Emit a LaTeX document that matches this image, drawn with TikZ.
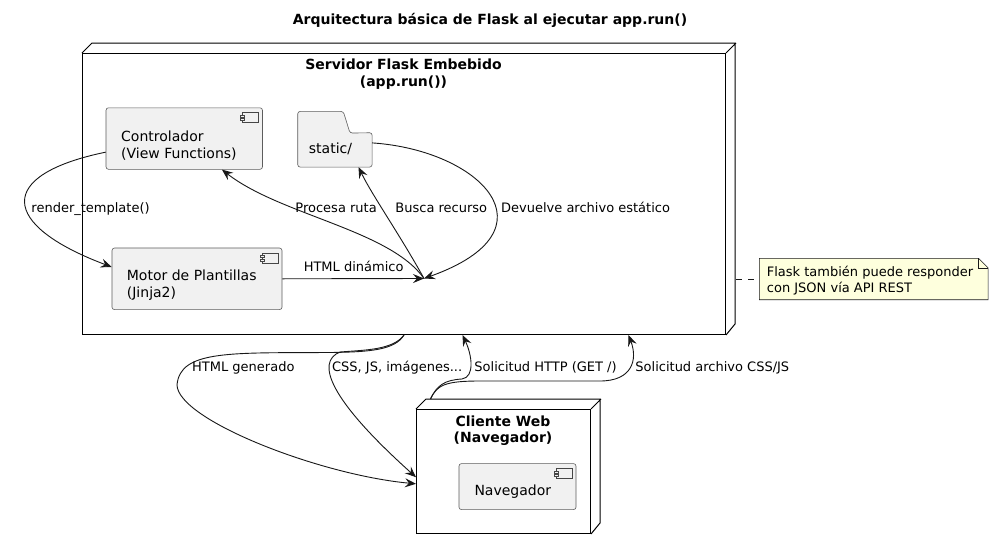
\documentclass[tikz,border=0pt]{standalone}
\usepackage{fontspec}
\setmainfont{DejaVu Sans}
\usetikzlibrary{arrows.meta}
\definecolor{compfill}{HTML}{F1F1F1}
\definecolor{compline}{HTML}{181818}
\definecolor{notefill}{HTML}{FEFFDD}
\newcommand{\compicon}[1]{%
  \draw[iconline] ([xshift=-20.3pt,yshift=-5.2pt]#1.north east) rectangle ++(16,10);
  \draw[iconline] ([xshift=-22.3pt,yshift=-7.8pt]#1.north east) rectangle ++(4,2);
  \draw[iconline] ([xshift=-22.3pt,yshift=-11.2pt]#1.north east) rectangle ++(4,2);}
\begin{document}
\begin{tikzpicture}[x=1pt,y=-1pt,
  comp/.style={draw=compline!70,fill=compfill,line width=0.6pt,rounded corners=2.5pt,inner sep=0,anchor=north west},
  iconline/.style={draw=compline!80,fill=compfill,line width=0.5pt},
  box3d/.style={draw=black,line width=1pt,inner sep=0,anchor=north west},
  txt/.style={inner sep=0,align=left,font=\fontsize{14}{16.3}\selectfont},
  head/.style={inner sep=0,align=center,font=\bfseries\fontsize{14}{16.5}\selectfont,anchor=north},
  lbl/.style={inner sep=0,anchor=base west,font=\fontsize{13}{15}\selectfont},
  arr/.style={draw=compline,line width=0.9pt,-{Stealth[length=11pt,width=9pt,inset=4pt]}}]
\useasboundingbox[fill=white] (0,0) rectangle (993,549);
\node[inner sep=0,anchor=base,font=\bfseries\fontsize{14}{16}\selectfont] (ttl) at (490,24) {Arquitectura básica de Flask al ejecutar app.run()};

\node[box3d,minimum width=643pt,minimum height=281pt] (srv) at (82,53) {};
\draw[line width=1pt] (srv.north west) -- ++(10,-10) -- ++(643,0) -- ++(0,281) -- (srv.south east) (srv.north east) -- ++(10,-10);
\node[head] (srvttl) at (403.5,58.7) {Servidor Flask Embebido\\(app.run())};

\node[comp,minimum width=156.5pt,minimum height=61.5pt] (ctrl) at (105.7,107.5) {};
\compicon{ctrl}
\node[txt,anchor=north west] (ctrltxt) at (121,131.1) {Controlador\\(View Functions)};
\node[comp,minimum width=170pt,minimum height=61.6pt] (mot) at (111.7,247.7) {};
\compicon{mot}
\node[txt,anchor=north west] (mottxt) at (126.7,270.1) {Motor de Plantillas\\(Jinja2)};
\node[inner sep=0,minimum width=74pt,minimum height=34pt,anchor=north west] (stat) at (297.7,132.7) {};
\draw[draw=compline!70,fill=compfill,line width=0.6pt,rounded corners=2.5pt] (stat.south west) -- ++(0,-55.7) -- ++(45.6,0) -- ++(6.7,21.7) -- (stat.north east) -- (stat.south east) -- cycle;
\node[txt,anchor=base west] (stattxt) at (308.7,153) {static/};
\coordinate (hub) at (424,278.5);

\draw[arr] ([yshift=-13.6pt]ctrl.west) .. controls (-5,175) and (0,225) .. ([yshift=11.8pt]mot.west) node[lbl] (l1) at (31,212) {render\_template()};
\draw[arr] (mot.east) -- (hub) node[lbl] (l2) at (303.3,271.7) {HTML dinámico};
\draw[arr] (hub) .. controls (390,230) and (280,215) .. ([xshift=37.7pt]ctrl.south) node[lbl] (l3) at (295,212) {Procesa ruta};
\draw[arr] (hub) .. controls (400,235) and (372,195) .. ([xshift=23.6pt]stat.south) node[lbl] (l4) at (395,212) {Busca recurso};
\draw[arr] ([yshift=7pt]stat.east) .. controls (480,150) and (560,230) .. (hub) node[lbl] (l5) at (500.7,212) {Devuelve archivo estático};

\node[box3d,minimum width=174pt,minimum height=124pt] (cli) at (416,409) {};
\draw[line width=1pt] (cli.north west) -- ++(10,-10) -- ++(174,0) -- ++(0,124) -- (cli.south east) (cli.north east) -- ++(10,-10);
\node[head] (clittl) at (503,415.4) {Cliente Web\\(Navegador)};
\node[comp,minimum width=117pt,minimum height=46pt] (nav) at (458.7,463.3) {};
\compicon{nav}
\node[txt,anchor=base west] (navtxt) at (474.3,495) {Navegador};
\coordinate (clitop) at ([xshift=-73pt,yshift=10pt]cli.north);

\draw[arr] (srv.south) .. controls (395,350) and (370,352) .. (330,352.5) .. controls (230,353) and (180,350) .. (177,385) .. controls (178,420) and (320,475) .. ([yshift=-12.3pt]cli.west) node[lbl] (l6) at (191.7,371.7) {HTML generado};
\draw[arr] (srv.south) .. controls (393,350) and (365,350) .. (340,352) .. controls (315,362) and (330,400) .. ([yshift=-5.7pt]cli.west) node[lbl] (l7) at (331.7,371.7) {CSS, JS, imágenes...};
\draw[arr] (clitop) .. controls (437,385) and (445,380) .. (462,379) .. controls (475,377) and (472,355) .. ([xshift=58.5pt]srv.south) node[lbl] (l8) at (474,371.7) {Solicitud HTTP (GET /)};
\draw[arr] (clitop) .. controls (437,385) and (445,381) .. (480,381) -- (600,381) .. controls (632,381) and (638,360) .. ([xshift=224.5pt]srv.south) node[lbl] (l9) at (635,371.7) {Solicitud archivo CSS/JS};

\node[inner sep=0,minimum width=228.4pt,minimum height=41pt,anchor=north west] (nte) at (759.3,258.3) {};
\draw[draw=compline,fill=notefill,line width=0.6pt] (nte.north west) -- ([xshift=-9.5pt]nte.north east) -- ([yshift=-9.5pt]nte.north east) -- (nte.south east) -- (nte.south west) -- cycle;
\draw[draw=compline,line width=0.6pt] ([xshift=-9.5pt]nte.north east) -- ++(0,9.5) -- ([yshift=-9.5pt]nte.north east);
\node[inner sep=0,anchor=north west,align=left,font=\fontsize{13}{15.5}\selectfont] (ntetxt) at (766.7,266.1) {Flask también puede responder\\con JSON vía API REST};
\draw[draw=compline,line width=0.6pt,dash pattern=on 6pt off 6pt] ([xshift=10pt]srv.east |- nte.west) -- (nte.west);
\end{tikzpicture}
\end{document}
